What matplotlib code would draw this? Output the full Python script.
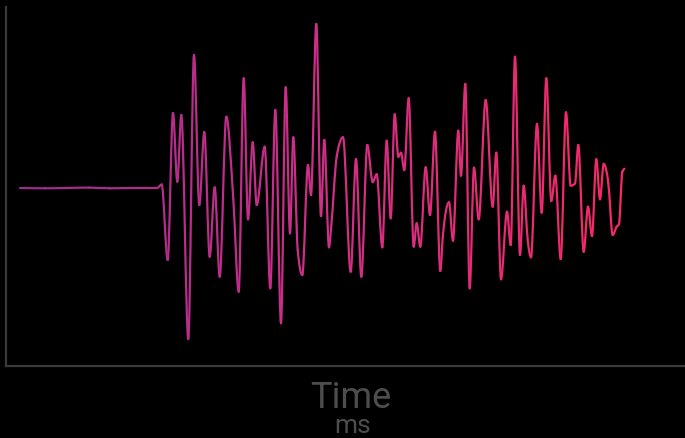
import numpy as np
import matplotlib
matplotlib.use("Agg")
import matplotlib.pyplot as plt
from matplotlib.path import Path
from matplotlib.patches import PathPatch
from matplotlib.colors import LinearSegmentedColormap

# waveform turning points (time in ms, amplitude)
time_ms = [0, 25, 45, 69, 90, 115, 137, 141.7, 147.7, 153, 157.3, 161.3, 168.3, 174,
           179.3, 184.3, 189.7, 194.7, 199.7, 206.3, 213.3, 218.7, 223.7, 228, 232.7,
           236.7, 244.7, 250.3, 255.3, 261, 265.7, 270, 273.3, 277.7, 282.3, 288, 291,
           296.3, 301, 304.3, 309, 311, 316.7, 323, 330.7, 336, 341.3, 347.3, 352.7,
           356.7, 362.3, 366.7, 370.7, 374.7, 378.3, 381, 384.3, 388.7, 393.7, 396.7,
           400.3, 405.7, 410, 415, 420.3, 422.7, 429, 433, 438.3, 441, 445.3, 449.7,
           454, 458.7, 465.7, 472.7, 476.3, 481, 487, 490.7, 495, 500, 503.7, 507.7,
           511, 517, 521.7, 526.3, 531.3, 535.3, 540.7, 546, 550.7, 555, 558.3, 563.7,
           568, 572, 576.3, 580, 583.7, 588.3, 592.7, 596.7, 599, 602.3, 604.3]
amplitude = [0, -0.3, 0, 0.4, -0.3, 0, 0, 3.5, -72, 75, 6.3, 73, -151, 133, -17, 56,
             -68.7, 0.7, -88.7, 71.3, -11, -103.7, 109.7, -31.3, 45.7, -17, 41.3,
             -100.3, 78, -135.3, 100.7, -45.3, 50.7, -62, -87, 23, -7, 164, -28, 48,
             -59.3, -41, 31.3, 50.7, -83.7, 29, -88.7, 43, 6, 13.7, -59.3, 47.3, -30.3,
             73.7, 31.3, 35.3, 18, 89.7, -58.7, -35.3, -58.7, 20.7, -27, 56.3, -83,
             -50, -14.3, -52.7, 57.3, 12.3, 104, -100.3, 20.3, -31.3, 88, -18.7, 35.3,
             -91.3, -23.7, -57, 131.3, -67, 2.3, -52, -69.3, 64, -24.7, 109.7, -13,
             12.3, -71, 75.7, 2.3, 4.5, 43, -63.7, -18.7, -48, 28.7, -11.3, 24, 5,
             -47, -38.7, -36, 16, 19.3]

t = np.array(time_ms, dtype=float)
a = np.array(amplitude, dtype=float)

# monotone cubic tangents (same idea as d3.curveMonotoneX)
h = np.diff(t)
s = np.diff(a) / h
m = np.zeros_like(a)
for i in range(1, len(a) - 1):
    s0, s1 = s[i - 1], s[i]
    if s0 * s1 <= 0:
        m[i] = 0
    else:
        p = (s0 * h[i] + s1 * h[i - 1]) / (h[i - 1] + h[i])
        m[i] = (np.sign(s0) + np.sign(s1)) * min(abs(s0), abs(s1), 0.5 * abs(p))
m[0] = s[0]
m[-1] = s[-1]

cmap = LinearSegmentedColormap.from_list("wave", ["#9a2c8e", "#cf2f88", "#f72967"])

fig = plt.figure(figsize=(6.85, 4.38), dpi=100, facecolor="black")
ax = fig.add_axes([6 / 685, 72 / 438, 1 - 6 / 685, (366 - 7) / 438])
ax.set_facecolor("black")

for i in range(len(t) - 1):
    x0, x1 = t[i], t[i + 1]
    y0, y1 = a[i], a[i + 1]
    d = h[i] / 3
    verts = [(x0, y0), (x0 + d, y0 + m[i] * d), (x1 - d, y1 - m[i + 1] * d), (x1, y1)]
    path = Path(verts, [Path.MOVETO, Path.CURVE4, Path.CURVE4, Path.CURVE4])
    col = cmap(((x0 + x1) / 2) / t[-1])
    ax.add_patch(PathPatch(path, fill=False, edgecolor=col, lw=1.6,
                           capstyle="round", joinstyle="round"))

ax.set_xlim(-14, 665)
ax.set_ylim(-178, 181)
ax.set_xticks([])
ax.set_yticks([])
for side in ["top", "right"]:
    ax.spines[side].set_visible(False)
for side in ["left", "bottom"]:
    ax.spines[side].set_color("#3a3a3a")
    ax.spines[side].set_linewidth(1.6)

fig.text(351 / 685, 30 / 438, "Time", color="#4d4d4d", fontsize=26,
         family="Roboto", ha="center", va="baseline")
fig.text(353 / 685, 5 / 438, "ms", color="#4d4d4d", fontsize=19,
         family="Roboto", ha="center", va="baseline")

fig.savefig("out.png", dpi=100, facecolor="black")
